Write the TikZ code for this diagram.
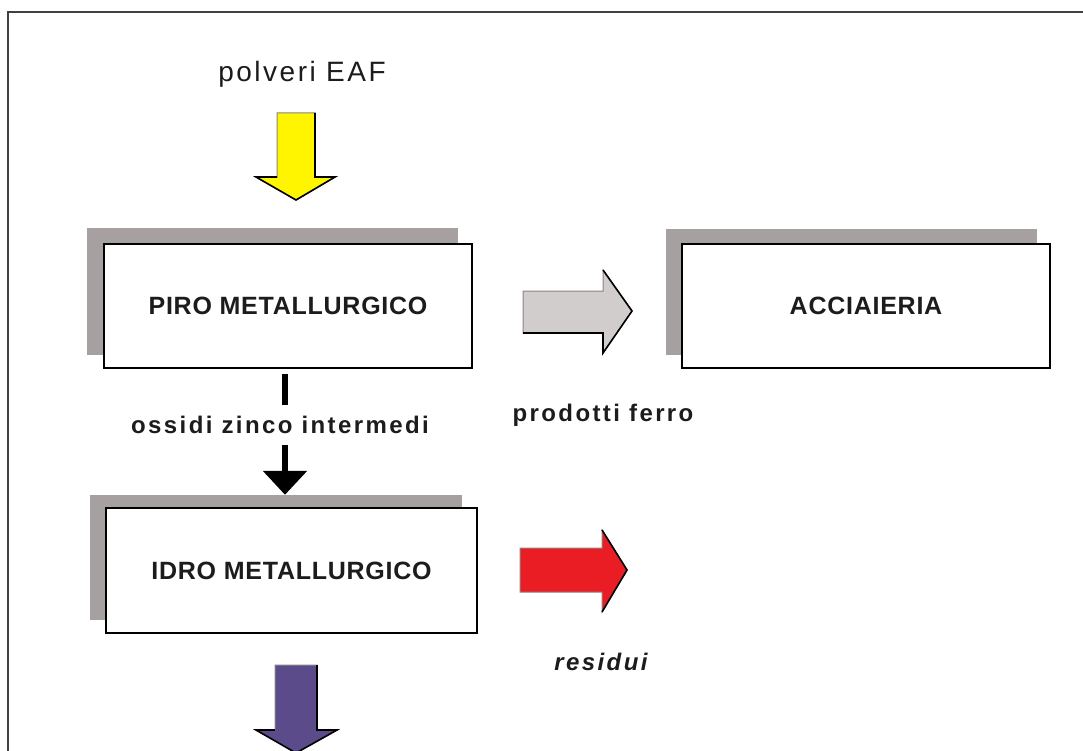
\documentclass[tikz,border=0pt]{standalone}
\usepackage{fontspec}
\setmainfont{Liberation Sans}
\newfontfamily\boxfont[LetterSpace=3]{Liberation Sans}
\newfontfamily\labfont[LetterSpace=10]{Liberation Sans}
\newfontfamily\topfont[LetterSpace=9]{Liberation Sans}
\usetikzlibrary{arrows.meta}
\definecolor{shadowgray}{HTML}{A6A0A0}
\definecolor{arrowgray}{HTML}{D2CDCD}
\definecolor{edgegray}{HTML}{8A8585}
\definecolor{arrowyellow}{HTML}{FFF500}
\definecolor{arrowred}{HTML}{EA1D25}
\definecolor{arrowpurple}{HTML}{5C4B8A}
\definecolor{inkcol}{HTML}{1C1C1C}
\begin{document}
\begin{tikzpicture}[x=1pt,y=-1pt,
  shadowbox/.style={draw=none,fill=shadowgray,inner sep=0pt},
  mainbox/.style={draw=black,line width=1.6pt,fill=white,inner sep=0pt,
    text=inkcol,font=\boxfont\bfseries\fontsize{25}{29}\selectfont},
  lab/.style={text=inkcol,inner sep=0pt,font=\labfont\bfseries\fontsize{24}{28}\selectfont},
  blockfill/.style={draw=edgegray,line width=1pt,line join=miter},
  blockedge/.style={draw=black,line width=1.6pt,line join=miter},
  conn/.style={draw=black,line width=6pt,-{Triangle[width=43pt,length=24pt]}},
  frameline/.style={draw=black!75,line width=2pt}]
\useasboundingbox (0,0) rectangle (1083,751);
\fill[white] (0,0) rectangle (1083,751);
% frame
\draw[frameline] (7.5,760) -- (7.5,12) -- (1090,12);

% title
\node[text=inkcol,inner sep=0pt,font=\topfont\fontsize{28}{32}\selectfont] (src) at (302,74) {polveri EAF};

% yellow input arrow
\path[fill=arrowyellow,blockfill] (277,113) -- (315,113) -- (315,177) -- (335,177) -- (296,200) -- (256,177) -- (277,177) -- cycle;
\draw[blockedge] (315,113) -- (315,177) -- (335,177) -- (296,200) -- (256,177) -- (277,177);

% PIRO box
\node[shadowbox,minimum width=371pt,minimum height=127pt] (piroS) at (272.5,291.5) {};
\node[mainbox,minimum width=368pt,minimum height=124pt] (piro) at (288,306) {PIRO METALLURGICO};

% ACCIAIERIA box
\node[shadowbox,minimum width=371pt,minimum height=126pt] (accS) at (851.5,292) {};
\node[mainbox,minimum width=368pt,minimum height=124pt] (acc) at (866,306) {ACCIAIERIA};

% grey arrow
\path[fill=arrowgray,blockfill] (523,291) -- (603,291) -- (603,270) -- (632,311) -- (603,353) -- (603,333) -- (523,333) -- cycle;
\draw[blockedge] (603,270) -- (632,311) -- (603,353) -- (603,333) -- (523,333);
\node[lab] (prod) at (603,415) {prodotti ferro};

% IDRO box
\node[shadowbox,minimum width=372pt,minimum height=125pt] (idroS) at (276,557.5) {};
\node[mainbox,minimum width=371pt,minimum height=125pt] (idro) at (291.5,570.5) {IDRO METALLURGICO};

% connector piro -> idro with label
\draw[conn] ([xshift=-3pt,yshift=-5pt]piro.south) -- ([xshift=9pt]idroS.north);
\node[lab,fill=white,inner xsep=4pt,inner ysep=11pt] (oss) at (280,425) {ossidi zinco intermedi};

% red arrow
\path[fill=arrowred,blockfill] (520,548) -- (602,548) -- (602,530) -- (627,570) -- (602,612) -- (602,592) -- (520,592) -- cycle;
\draw[blockedge] (602,530) -- (627,570) -- (602,612);
\node[lab,font=\labfont\bfseries\itshape\fontsize{24}{28}\selectfont] (res) at (601,662) {residui};

% purple output arrow
\path[fill=arrowpurple,blockfill] (275,665) -- (317,665) -- (317,730) -- (337,730) -- (296,753) -- (256,730) -- (275,730) -- cycle;
\draw[blockedge] (317,665) -- (317,730) -- (337,730) -- (296,753) -- (256,730) -- (275,730);
\end{tikzpicture}
\end{document}
